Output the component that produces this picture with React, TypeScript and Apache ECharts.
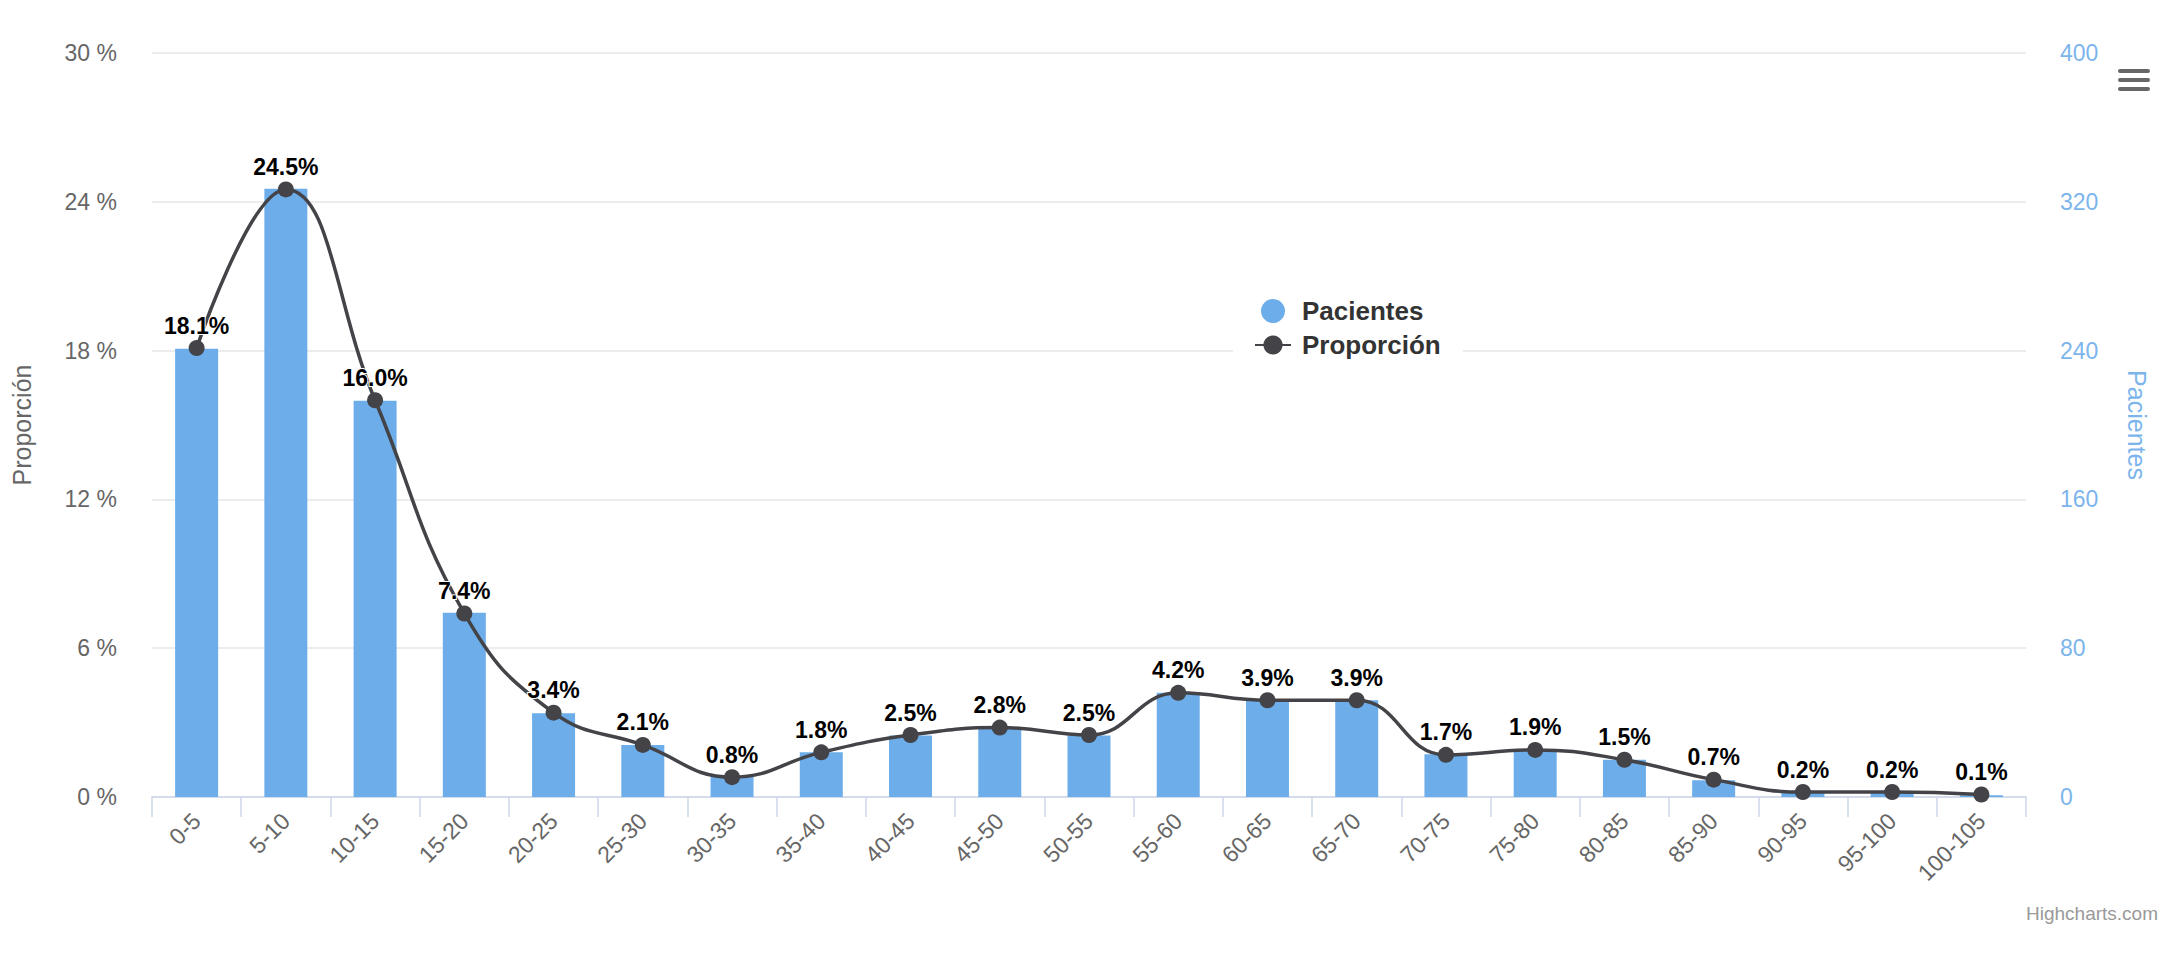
import React, { useEffect, useRef } from "react";
import * as echarts from "echarts";

const categories = ["0-5","5-10","10-15","15-20","20-25","25-30","30-35","35-40","40-45","45-50","50-55","55-60","60-65","65-70","70-75","75-80","80-85","85-90","90-95","95-100","100-105"];
const proporcion = [18.1,24.5,16.0,7.4,3.4,2.1,0.8,1.8,2.5,2.8,2.5,4.2,3.9,3.9,1.7,1.9,1.5,0.7,0.2,0.2,0.1];
const pacientes = [241,327,213,99,45,28,11,24,33,37,33,56,52,52,23,25,20,9,3,3,1];
const leftTicks = { min: 0, max: 30, interval: 6 };
const rightTicks = { min: 0, max: 400, interval: 80 };

const FONT = "'Liberation Sans', Arial, Helvetica, sans-serif";

export default function App() {
  const ref = useRef<HTMLDivElement>(null);
  useEffect(() => {
    const chart = echarts.init(ref.current!, null, { renderer: "svg" });
    chart.setOption({
      animation: false,
      textStyle: { fontFamily: FONT },
      grid: { left: 152, right: 135, top: 53, bottom: 166, containLabel: false },
      legend: {
        orient: "vertical",
        left: 1233,
        top: 288,
        backgroundColor: "#ffffff",
        padding: [10, 22, 10, 21],
        itemWidth: 36,
        itemHeight: 24,
        itemGap: 8,
        selectedMode: false,
        textStyle: { fontSize: 26, fontWeight: "bold", color: "#333333", fontFamily: FONT, padding: [0, 0, 0, 6] },
        data: [{ name: "Pacientes", icon: "circle" }, { name: "Proporción" }],
      },
      xAxis: {
        type: "category",
        data: categories,
        boundaryGap: true,
        axisLine: { lineStyle: { color: "#ccd6eb", width: 1.5 } },
        axisTick: { show: true, length: 20, lineStyle: { color: "#ccd6eb", width: 1.5 } },
        axisLabel: { rotate: 45, fontSize: 23, color: "#666666", margin: 20, interval: 0, fontFamily: FONT },
      },
      yAxis: [
        {
          type: "value",
          ...leftTicks,
          position: "left",
          name: "Proporción",
          nameLocation: "middle",
          nameGap: 118,
          nameRotate: 90,
          nameTextStyle: { fontSize: 25, color: "#666666", fontFamily: FONT },
          axisLine: { show: false },
          axisTick: { show: false },
          axisLabel: { formatter: "{value} %", fontSize: 23, color: "#666666", margin: 35, fontFamily: FONT },
          splitLine: { lineStyle: { color: "#e6e6e6", width: 1.5 } },
        },
        {
          type: "value",
          ...rightTicks,
          position: "right",
          name: "Pacientes",
          nameLocation: "middle",
          nameGap: 98,
          nameRotate: -90,
          nameTextStyle: { fontSize: 25, color: "#7cb5ec", fontFamily: FONT },
          axisLine: { show: false },
          axisTick: { show: false },
          axisLabel: { fontSize: 23, color: "#7cb5ec", margin: 34, fontFamily: FONT },
          splitLine: { show: false },
        },
      ],
      series: [
        {
          name: "Pacientes",
          type: "bar",
          yAxisIndex: 1,
          data: pacientes,
          barWidth: 43,
          itemStyle: { color: "#6daeea" },
          z: 1,
        },
        {
          name: "Proporción",
          type: "line",
          yAxisIndex: 0,
          data: proporcion,
          smooth: 0.45,
          symbol: "circle",
          symbolSize: 16,
          lineStyle: { color: "#434348", width: 3.5 },
          itemStyle: { color: "#434348" },
          z: 3,
          label: {
            show: true,
            position: "top",
            distance: 3,
            formatter: (p: any) => Number(p.value).toFixed(1) + "%",
            fontSize: 23,
            fontWeight: "bold",
            color: "#000000",
            textBorderColor: "#ffffff",
            textBorderWidth: 2,
            fontFamily: FONT,
          },
        },
      ],
      graphic: [
        { type: "rect", shape: { x: 2118, y: 69, width: 32, height: 4, r: 2 }, style: { fill: "#666666" } },
        { type: "rect", shape: { x: 2118, y: 78, width: 32, height: 4, r: 2 }, style: { fill: "#666666" } },
        { type: "rect", shape: { x: 2118, y: 87, width: 32, height: 4, r: 2 }, style: { fill: "#666666" } },
        {
          type: "text",
          right: 3,
          top: 904,
          style: { text: "Highcharts.com", fontSize: 19, fill: "#999999", fontFamily: FONT },
        },
      ],
    });
    return () => chart.dispose();
  }, []);
  return <div ref={ref} style={{ position: "fixed", left: 0, top: 0, width: 2161, height: 963, background: "#ffffff" }} />;
}
